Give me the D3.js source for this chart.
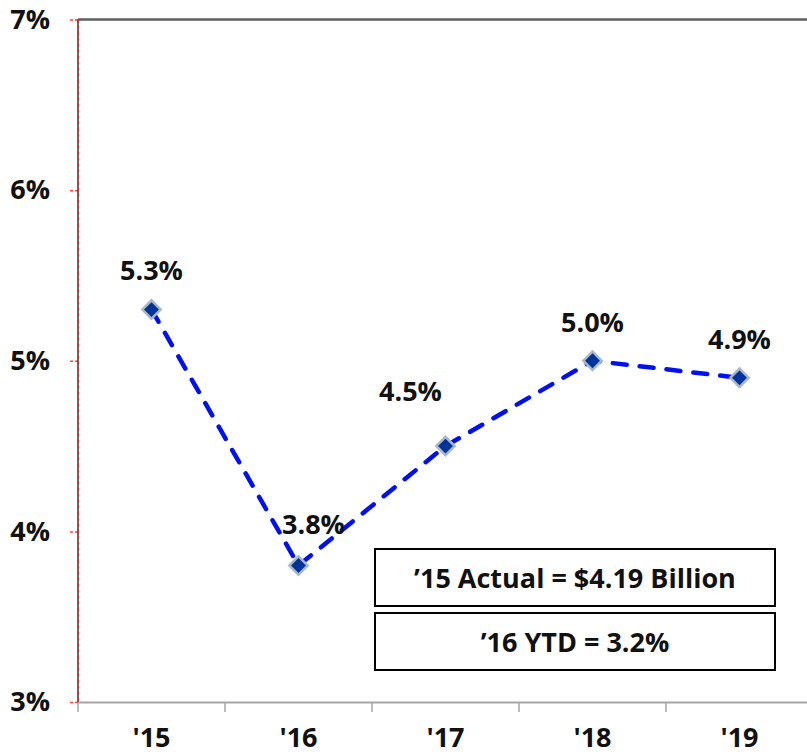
<!DOCTYPE html>
<html>
<head>
<meta charset="utf-8">
<script src="https://cdn.jsdelivr.net/npm/d3@7"></script>
<style>
  body { margin: 0; background: #fff; }
  text { font-family: "Open Sans", Lato, sans-serif; font-weight: bold; fill: #111; }
</style>
</head>
<body>
<svg id="chart" width="807" height="755"></svg>
<script>
// chart values
const years = ["'15", "'16", "'17", "'18", "'19"];
const growth = [5.3, 3.8, 4.5, 5.0, 4.9];
const yTicks = [3, 4, 5, 6, 7];
const notes = ["\u201915 Actual = $4.19 Billion", "\u201916 YTD = 3.2%"];

// label nudges (layout only)
const labelDx = [0, 15, -35, 0, 0];
const labelDy = [-30, -32, -45, -29, -29];

const svg = d3.select('#chart');
const plotLeft = 78, plotTop = 19.5, plotBottom = 702, plotRight = 813;
const fs = '27px';

const x = d3.scaleBand().domain(years).range([plotLeft, plotRight]);
const y = d3.scaleLinear().domain([3, 7]).range([plotBottom, plotTop]);

// top border
svg.append('line')
  .attr('x1', plotLeft).attr('x2', plotRight)
  .attr('y1', plotTop).attr('y2', plotTop)
  .attr('stroke', '#5f5f5f').attr('stroke-width', 2.5);

// x axis
const xAxis = svg.append('g')
  .attr('transform', 'translate(0,' + plotBottom + ')')
  .call(d3.axisBottom(x).tickSize(0).tickPadding(26));
xAxis.select('.domain').attr('stroke', '#a6a6a6').attr('stroke-width', 2);
xAxis.selectAll('text').style('font-size', fs);
// band boundary ticks
xAxis.selectAll('.bt')
  .data(years)
  .join('line')
  .attr('class', 'bt')
  .attr('x1', d => x(d)).attr('x2', d => x(d))
  .attr('y1', 0).attr('y2', 10)
  .attr('stroke', '#a6a6a6').attr('stroke-width', 1.5);

// y axis
const yAxis = svg.append('g')
  .attr('transform', 'translate(' + plotLeft + ',0)')
  .call(d3.axisLeft(y).tickValues(yTicks).tickFormat(d => d + '%').tickSize(10).tickPadding(18));
yAxis.select('.domain').remove();
yAxis.append('line')
  .attr('y1', plotTop).attr('y2', plotBottom)
  .attr('stroke', '#333').attr('stroke-width', 1.5);
yAxis.append('line')
  .attr('y1', plotTop).attr('y2', plotBottom)
  .attr('stroke', '#ff2020').attr('stroke-width', 1.5).attr('stroke-dasharray', '3,3');
yAxis.selectAll('.tick line').attr('stroke', '#ff4040').attr('stroke-width', 1.5).attr('stroke-dasharray', '3,2');
yAxis.selectAll('.tick text').style('font-size', fs).attr('fill', '#111');

// dashed line
const pts = years.map((d, i) => ({ year: d, v: growth[i], i: i }));
const line = d3.line().x(d => x(d.year) + x.bandwidth() / 2).y(d => y(d.v));
svg.append('path')
  .datum(pts)
  .attr('d', line)
  .attr('fill', 'none')
  .attr('stroke', '#0010ee')
  .attr('stroke-width', 4.5)
  .attr('stroke-linecap', 'round')
  .attr('stroke-dasharray', '14,13');

// diamond markers
svg.selectAll('.mk')
  .data(pts)
  .join('rect')
  .attr('class', 'mk')
  .attr('x', -6.5).attr('y', -6.5)
  .attr('width', 13).attr('height', 13)
  .attr('transform', d => 'translate(' + (x(d.year) + x.bandwidth() / 2) + ',' + y(d.v) + ') rotate(45)')
  .attr('fill', '#003399')
  .attr('stroke', '#a9b8c8')
  .attr('stroke-width', 2.5);

// value labels
svg.selectAll('.lbl')
  .data(pts)
  .join('text')
  .attr('class', 'lbl')
  .attr('x', d => x(d.year) + x.bandwidth() / 2 + labelDx[d.i])
  .attr('y', d => y(d.v) + labelDy[d.i])
  .attr('text-anchor', 'middle')
  .style('font-size', fs)
  .text(d => d.v.toFixed(1) + '%');

// note boxes
const boxes = svg.selectAll('.note')
  .data(notes)
  .join('g')
  .attr('class', 'note')
  .attr('transform', (d, i) => 'translate(375,' + (549 + i * 64) + ')');
boxes.append('rect')
  .attr('width', 400).attr('height', 57)
  .attr('fill', '#fff').attr('stroke', '#000').attr('stroke-width', 2);
boxes.append('text')
  .attr('x', 200).attr('y', 39)
  .attr('text-anchor', 'middle')
  .style('font-size', fs)
  .text(d => d);
</script>
</body>
</html>
